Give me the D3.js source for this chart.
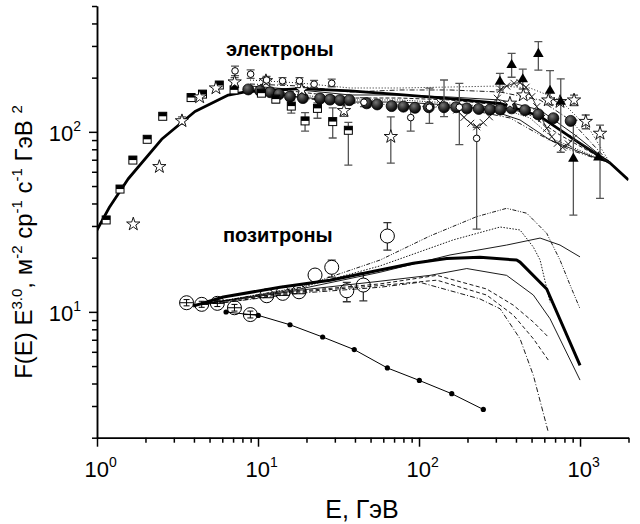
<!DOCTYPE html>
<html><head><meta charset="utf-8">
<script src="https://cdn.jsdelivr.net/npm/d3@7"></script>
<style>body{margin:0;background:#fff}svg{display:block}text{font-family:Arial,"Liberation Sans",sans-serif;fill:#000}</style>
</head><body><svg id="c" width="640" height="524"></svg>
<script>
// ---------------- data ----------------
const xTickDecades=[1,10,100,1000];
const yTickDecades=[10,100];
const xMinorTicks=[2,3,4,5,6,7,8,9,20,30,40,50,60,70,80,90,200,300,400,500,600,700,800,900,2000];
const yMinorTicks=[2,3,4,5,6,7,8,9,20,30,40,50,60,70,80,90,200,300,400,500];
const annotations=["электроны","позитроны"];

// electron model curves [E, F]
const elThick=[[1,28.5],[1.2,38.4],[1.56,54.7],[2.52,90.9],[4.06,129.7],[6.54,160],[8.5,167],[18.24,174],[37.3,169],[76.2,161],[155.8,153],[318.6,144],[564.5,122],[931,90],[1536,67.1],[2000,54]];
const elModel1=[[8.92,194],[18.24,186.7],[37.3,175.2],[76.2,175.2],[155.8,177.4],[318.6,179.7],[489,175.2],[751,150.3],[1153,102.4],[1536,67.1]];
const elModel2=[[8.92,184.4],[18.24,179.7],[37.3,166.4],[76.2,170.8],[155.8,170.8],[318.6,166.4],[564.5,150.3],[867,116.4],[1536,67.1]];
const elModel3=[[8.92,179.7],[18.24,170.8],[37.3,160.2],[76.2,160.2],[155.8,156.1],[318.6,150.3],[564.5,132.2],[931,96],[1536,67.1]];
const elModel4=[[10.29,175.2],[18.24,166.4],[37.3,154.1],[76.2,154.1],[155.8,150.3],[318.6,140.9],[489,124],[751,96],[1536,67.1]];
const elModel5=[[10.29,170.8],[18.24,160.2],[37.3,150.3],[76.2,150.3],[155.8,144.6],[318.6,135.6],[489,119.4],[700,90.1],[1536,67.1]];
const elModel6=[[10.29,166.4],[18.24,156.1],[37.3,146.4],[76.2,146.4],[155.8,140.9],[276,132.2],[424,116.4],[651,90.1],[1000,77.2],[1536,67.1]];
const elModel7=[[10.29,164.3],[18.24,154.1],[37.3,144.6],[76.2,140.9],[155.8,135.6],[239.3,128.9],[367.5,119.4],[564.5,96],[867,79.3],[1536,67.1]];

// electron data [E, F, low, high]
const elSquares=[[1.14,32.4],[1.39,48.1],[1.67,69.7],[2.05,90.9],[2.56,122],[3.84,155],[4.52,162],[5.75,182],[7.1,171],[10.5,164],[12.9,152,145,160],[16.1,139,127,150],[19.6,115,101,128],[23.4,135,119,145],[29.1,114,92.4,136],[36.4,102,65.4,113]];
const elStars=[[1.68,30.7],[2.44,64],[3.37,115,110,121],[4.34,156],[5.48,175],[7.16,189,180,200],[11.2,192,185,200],[18.7,171],[34.2,131,122,141],[66.8,94,67,121],[367,144],[444,160],[635,150],[751,147],[918,150,140,160],[1085,114,104,124],[1331,98,42.7,109]];
const elOpenCircles=[[7.2,218,205,232],[9.0,209,198,221],[11.3,194,186,203],[14.2,192,184,200],[18.1,192,184,200],[22.3,184,176,193],[28.7,186,178,196],[45.5,146,138,155],[88.8,120,101,138],[116,137,111.5,175],[178,137,85,186],[228,92,28.8,106]];
const elFilledCircles=[[8.7,172],[10.3,169],[11.9,166],[13.5,162],[15.8,157],[19,154],[24.3,153],[28,151],[32.3,150],[37,150],[47.3,144],[55,142],[67.6,139],[80,138],[94.4,136],[115,137],[143,137,121.6,194],[170,137],[198,135],[235,134],[276,133],[320,133],[376,135],[455,132],[551,125],[683,119],[875,115]];
const elCrosses=[[135,144.6],[171.5,132.2],[190.3,120.4],[209.5,111.5],[228.3,106.7],[250.8,112.4],[273.4,121.3],[292.3,135.1],[306.4,153.6],[321.8,172.3],[350.5,179.7],[389,186],[424,187.5],[461.9,176.8],[501.2,156.7],[538.3,137.9],[578.3,118.9],[621.2,104.6],[667.4,94],[722.8,86.4],[780.8,82],[845.9,85.6],[908.7,92]];
const elCrossTail=[[908.7,92],[1536,67.1]];
const elTriangles=[[318,190,171,211],[376,235,201,273],[441,196,173,223],[551,271,220,317],[651,169,141,219],[759,147,77,197],[909,71,34.5,116],[1300,72]];

// positron model curves
const posThick=[[3.95,10.77],[6.09,12.1],[13.7,13.7],[28,15.0],[57.3,17.1],[92.2,18.6],[148.6,19.8],[239.3,20.1],[404,19.4],[424,18.9],[621,13.4],[1000,5.05]];
const posModel1=[[3.95,10.9],[6.33,11.6],[18.24,13.7],[57.3,19.4],[117,26.4],[228,33.8],[350,37.6],[467,35.3],[621,27.3],[751,19.4],[867,14.1],[1000,10.4]];
const posModel2=[[3.95,10.9],[6.33,11.6],[18.24,13.6],[57.3,18.0],[163,25.1],[319,29.6],[424,28.5],[513,22.9],[565,19.4],[651,11.3]];
const posModel3=[[3.95,10.9],[6.33,11.6],[18.24,13.4],[57.3,16.6],[155.8,20.7],[350,23.5],[565,25.7],[751,23.5],[1000,20.2]];
const posModel4=[[3.95,10.9],[6.33,11.5],[18.24,13.2],[57.3,14.8],[117,15.95],[198,17.4],[350,15.95],[513,12.4],[651,9.16],[1000,4.18]];
const posModel5=[[3.95,10.9],[6.33,11.5],[18.24,13.05],[57.3,14.3],[129,15.95],[263,13.4],[385,10.9],[513,8.78],[635,7.25]];
const posModel6=[[3.95,10.9],[6.33,11.3],[18.24,12.9],[57.3,14.0],[129,15.0],[263,12.4],[385,9.6],[513,7.09],[635,5.4]];
const posModel7=[[3.95,10.9],[6.33,11.3],[18.24,12.7],[57.3,13.7],[101,14.6],[239,11.8],[319,10.4],[424,7.09],[513,4.44],[635,2.15]];

// positron data
const posBarCircles=[[3.6,11.24,10.8,11.7],[4.47,11.01,10.6,11.45],[5.59,11.15,10.7,11.6],[7.14,10.54,10.1,11.0],[8.96,9.66,9.25,10.1]];
const posLineCircles=[[11.33,12.29],[14.24,12.67],[17.97,12.93]];
const posOpenCircles=[[22.6,16.02],[28.7,17.68,15.6,19.4],[35.6,13.1,11.38,14.6],[45.1,14.09,11.5,16.4],[63.6,26.38,22.0,31.3]];
const posDots=[[6.33,9.98],[10.04,9.56],[15.8,8.48],[25.2,7.25],[39.6,6.17],[63.6,4.88],[100.5,4.16],[159.7,3.51],[250.8,2.87]];

// ---------------- drawing ----------------
const svg=d3.select("#c");
const x=d3.scaleLog().domain([1,2000]).range([97,628.5]);
const y=d3.scaleLog().domain([2,500]).range([437.7,6]);
const line=d3.line().x(d=>x(d[0])).y(d=>y(d[1]));

const defs=svg.append("defs");
defs.append("clipPath").attr("id","clip").append("rect")
  .attr("x",97).attr("y",6).attr("width",531.5).attr("height",431.7);
const grad=defs.append("radialGradient").attr("id","ball").attr("cx","38%").attr("cy","32%").attr("r","70%");
grad.append("stop").attr("offset","0%").attr("stop-color","#777");
grad.append("stop").attr("offset","60%").attr("stop-color","#2a2a2a");
grad.append("stop").attr("offset","100%").attr("stop-color","#000");

const plot=svg.append("g").attr("clip-path","url(#clip)");

// error bars helper
function errbars(data,color,cap){
  const g=plot.append("g").attr("stroke",color).attr("stroke-width",1.3).attr("fill","none");
  data.filter(d=>d.length>=4).forEach(d=>{
    const cx=x(d[0]),y1=y(d[2]),y2=y(d[3]);
    g.append("line").attr("x1",cx).attr("x2",cx).attr("y1",y1).attr("y2",y2);
    g.append("line").attr("x1",cx-cap).attr("x2",cx+cap).attr("y1",y1).attr("y2",y1);
    g.append("line").attr("x1",cx-cap).attr("x2",cx+cap).attr("y1",y2).attr("y2",y2);
  });
}

// positron big circles (drawn beneath the positron curves)
function bigCircles(data,hline,vbar){
  const g=plot.append("g").selectAll("g").data(data).join("g")
    .attr("transform",d=>`translate(${x(d[0])},${y(d[1])})`);
  g.append("circle").attr("r",7).attr("fill","#fff").attr("stroke","#000").attr("stroke-width",1);
  if(hline!==null) g.append("line").attr("x1",-7).attr("x2",7).attr("y1",hline).attr("y2",hline).attr("stroke","#000").attr("stroke-width",1);
  if(vbar) g.each(function(d){
    const s=d3.select(this);
    const y1=y(d[2])-y(d[1]), y2=y(d[3])-y(d[1]);
    s.append("line").attr("x1",0).attr("x2",0).attr("y1",y1).attr("y2",y2).attr("stroke","#000");
    s.append("line").attr("x1",-3).attr("x2",3).attr("y1",y1).attr("y2",y1).attr("stroke","#000");
    s.append("line").attr("x1",-3).attr("x2",3).attr("y1",y2).attr("y2",y2).attr("stroke","#000");
  });
}
errbars(posOpenCircles,"#333",4);
bigCircles(posBarCircles,0,true);
bigCircles(posLineCircles,2,false);
bigCircles(posOpenCircles,null,false);

const modelStyles=[
  [elModel1,"1,2",0.9],[elModel2,"5,2,1,2",0.9],[elModel3,null,0.9],[elModel4,"4,2",0.9],
  [elModel5,"1,1.5",0.9],[elModel6,null,0.9],[elModel7,"5,2,1,2,1,2",0.9],
  [posModel1,"4,1.5,1,1.5,1,1.5",0.9],[posModel2,"1.5,1.5",0.9],[posModel3,null,0.9],[posModel4,null,0.9],
  [posModel5,"4,2.5",0.9],[posModel6,"4,2.5",0.9],[posModel7,"5,2,1,2",0.9]
];
modelStyles.forEach(([d,dash,w])=>{
  plot.append("path").datum(d).attr("d",line).attr("fill","none").attr("stroke","#000")
    .attr("stroke-width",w).attr("stroke-dasharray",dash);
});
plot.append("path").datum(elThick).attr("d",line).attr("fill","none").attr("stroke","#000").attr("stroke-width",2.8).attr("stroke-linejoin","round");
plot.append("path").datum(posThick).attr("d",line).attr("fill","none").attr("stroke","#000").attr("stroke-width",3).attr("stroke-linejoin","round");

[elSquares,elStars,elOpenCircles,elFilledCircles,elTriangles].forEach(d=>errbars(d,"#555",4));

// crosses line
plot.append("path").datum(elCrosses).attr("d",line).attr("fill","none").attr("stroke","#222").attr("stroke-width",0.9);
plot.append("path").datum(elCrossTail).attr("d",line).attr("fill","none").attr("stroke","#222").attr("stroke-width",0.9);
plot.append("g").selectAll("path").data(elCrosses).join("path")
  .attr("transform",d=>`translate(${x(d[0])},${y(d[1])})`)
  .attr("d","M-3.5,-3.5L3.5,3.5M-3.5,3.5L3.5,-3.5").attr("stroke","#222").attr("stroke-width",1);

// filled circles
plot.append("g").selectAll("circle").data(elFilledCircles).join("circle")
  .attr("cx",d=>x(d[0])).attr("cy",d=>y(d[1])).attr("r",5.5)
  .attr("fill","url(#ball)").attr("stroke","#000").attr("stroke-width",0.8);

// squares (half filled)
const sq=plot.append("g").selectAll("g").data(elSquares).join("g")
  .attr("transform",d=>`translate(${x(d[0])},${y(d[1])})`);
sq.append("rect").attr("x",-4).attr("y",-4).attr("width",8).attr("height",8).attr("fill","#fff").attr("stroke","#000").attr("stroke-width",1);
sq.append("rect").attr("x",-4).attr("y",-4).attr("width",8).attr("height",4).attr("fill","#000");

// stars
const star=d3.symbol(d3.symbolStar,55);
plot.append("g").selectAll("path").data(elStars).join("path")
  .attr("transform",d=>`translate(${x(d[0])},${y(d[1])})`).attr("d",star)
  .attr("fill","#fff").attr("stroke","#000").attr("stroke-width",0.9);

// small open circles
plot.append("g").selectAll("circle").data(elOpenCircles).join("circle")
  .attr("cx",d=>x(d[0])).attr("cy",d=>y(d[1])).attr("r",3.3)
  .attr("fill","#fff").attr("stroke","#000").attr("stroke-width",1);

// triangles
const tri=d3.symbol(d3.symbolTriangle,48);
plot.append("g").selectAll("path").data(elTriangles).join("path")
  .attr("transform",d=>`translate(${x(d[0])},${y(d[1])})`).attr("d",tri).attr("fill","#000");

// positron dots line
plot.append("path").datum(posDots).attr("d",line).attr("fill","none").attr("stroke","#000").attr("stroke-width",1);
plot.append("g").selectAll("circle").data(posDots).join("circle")
  .attr("cx",d=>x(d[0])).attr("cy",d=>y(d[1])).attr("r",2.6).attr("fill","#000");

// ---------------- axes ----------------
function styleAxis(g){g.selectAll("path,line").attr("stroke","#000").attr("stroke-width",1.5);}
const gx=svg.append("g").attr("transform",`translate(0,${y.range()[0]})`);
gx.call(d3.axisBottom(x).tickValues(xMinorTicks).tickSize(5).tickSizeOuter(0).tickFormat("")).call(styleAxis);
gx.append("g").call(d3.axisBottom(x).tickValues(xTickDecades).tickSize(9).tickSizeOuter(0).tickFormat("")).call(styleAxis);
const gy=svg.append("g").attr("transform",`translate(${x.range()[0]},0)`);
gy.call(d3.axisLeft(y).tickValues(yMinorTicks).tickSize(5).tickSizeOuter(0).tickFormat("")).call(styleAxis);
gy.append("g").call(d3.axisLeft(y).tickValues(yTickDecades).tickSize(8).tickSizeOuter(0).tickFormat("")).call(styleAxis);

xTickDecades.forEach(v=>{
  const t=svg.append("text").attr("x",x(v)-12.5).attr("y",477).attr("font-size",22);
  t.append("tspan").text("10");
  t.append("tspan").attr("dy",-10).attr("font-size",14).text(String(Math.round(Math.log10(v))));
});
yTickDecades.forEach(v=>{
  const t=svg.append("text").attr("x",81).attr("y",y(v)+9).attr("font-size",22).attr("text-anchor","end");
  t.append("tspan").text("10");
  t.append("tspan").attr("dy",-10).attr("font-size",14).text(String(Math.round(Math.log10(v))));
});

// axis titles
svg.append("text").attr("x",362).attr("y",518).attr("font-size",25).attr("text-anchor","middle").text("E, ГэВ");
const yt=svg.append("text").attr("transform","translate(32,242) rotate(-90)").attr("font-size",24).attr("text-anchor","middle");
[["F(E) E",0],["3.0",1],[", м",0],["-2",1],[" ср",0],["-1",1],[" с",0],["-1",1],[" ГэВ ",0],["2",1]].forEach(([s,sup],i,arr)=>{
  const prev=i>0?arr[i-1][1]:0;
  const ts=yt.append("tspan").text(s);
  if(sup){ts.attr("font-size",15).attr("dy",prev?0:-10);} else if(prev){ts.attr("dy",10);}
});

// annotations
svg.append("text").attr("x",226).attr("y",56).attr("font-size",20).attr("font-weight","bold").text(annotations[0]);
svg.append("text").attr("x",223).attr("y",242).attr("font-size",20).attr("font-weight","bold").text(annotations[1]);
</script></body></html>
